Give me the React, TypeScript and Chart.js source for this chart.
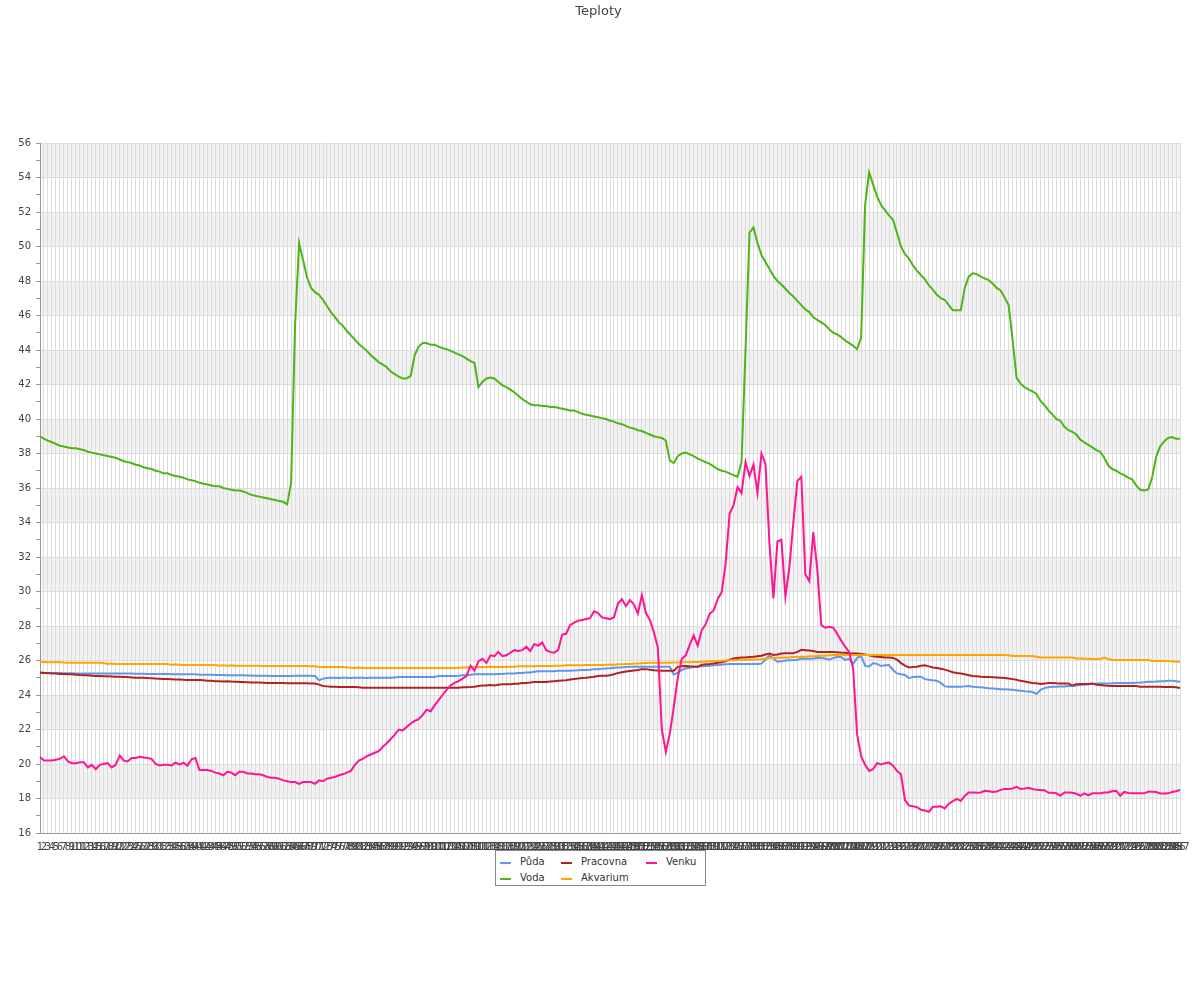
import { useEffect, useRef } from 'react';
import { Chart, registerables } from 'chart.js';

Chart.register(...registerables);

const TITLE = 'Teploty';
const CATEGORIES: string[] = Array.from({ length: 287 }, (_, i) => String(i + 1));

const PUDA = [
  25.3, 25.28, 25.27, 25.27, 25.27, 25.27, 25.26, 25.26, 25.26, 25.25,
  25.25, 25.25, 25.25, 25.25, 25.25, 25.25, 25.25, 25.25, 25.25, 25.25,
  25.24, 25.24, 25.24, 25.24, 25.23, 25.23, 25.23, 25.22, 25.22, 25.22,
  25.22, 25.22, 25.22, 25.2, 25.2, 25.2, 25.2, 25.2, 25.2, 25.2,
  25.18, 25.17, 25.17, 25.17, 25.16, 25.16, 25.16, 25.15, 25.15, 25.15,
  25.14, 25.14, 25.13, 25.13, 25.12, 25.12, 25.12, 25.12, 25.1, 25.1,
  25.1, 25.1, 25.1, 25.1, 25.12, 25.12, 25.12, 25.12, 25.12, 25.1,
  24.85, 24.95, 24.98, 25.0, 25.0, 24.98, 25.0, 25.0, 24.98, 25.0,
  25.0, 25.0, 24.98, 25.0, 25.0, 25.0, 25.0, 25.0, 25.0, 25.02,
  25.04, 25.05, 25.05, 25.05, 25.05, 25.05, 25.05, 25.05, 25.05, 25.05,
  25.1, 25.1, 25.1, 25.1, 25.1, 25.12, 25.15, 25.15, 25.17, 25.2,
  25.2, 25.2, 25.2, 25.2, 25.2, 25.22, 25.22, 25.25, 25.25, 25.25,
  25.27, 25.27, 25.3, 25.3, 25.35, 25.38, 25.38, 25.38, 25.38, 25.38,
  25.4, 25.4, 25.4, 25.4, 25.42, 25.43, 25.45, 25.45, 25.47, 25.5,
  25.5, 25.52, 25.54, 25.55, 25.58, 25.6, 25.6, 25.62, 25.64, 25.64,
  25.64, 25.64, 25.64, 25.64, 25.64, 25.64, 25.64, 25.64, 25.64, 25.18,
  25.3, 25.45, 25.54, 25.58, 25.62, 25.64, 25.66, 25.68, 25.7, 25.72,
  25.74, 25.76, 25.78, 25.79, 25.8, 25.8, 25.8, 25.8, 25.8, 25.8,
  25.8, 25.82, 26.05, 26.3, 26.1, 25.93, 25.95, 26.0, 26.02, 26.03,
  26.05, 26.1, 26.12, 26.1, 26.12, 26.15, 26.15, 26.12, 26.05, 26.15,
  26.2, 26.2, 26.03, 26.1, 25.8, 26.15, 26.25, 25.7, 25.64, 25.85,
  25.8, 25.68, 25.72, 25.74, 25.45, 25.25, 25.2, 25.16, 24.98, 25.05,
  25.06, 25.06, 24.92, 24.88, 24.85, 24.83, 24.7, 24.5, 24.48, 24.48,
  24.48, 24.48, 24.5, 24.52, 24.48, 24.46, 24.45, 24.42, 24.39, 24.38,
  24.36, 24.34, 24.33, 24.32, 24.3, 24.27, 24.25, 24.22, 24.2, 24.17,
  24.06, 24.3, 24.4, 24.45, 24.48, 24.48, 24.5, 24.5, 24.52, 24.52,
  24.55, 24.58, 24.6, 24.62, 24.64, 24.67, 24.67, 24.67, 24.67, 24.68,
  24.7, 24.7, 24.7, 24.7, 24.7, 24.71, 24.72, 24.74, 24.77, 24.77,
  24.78, 24.8, 24.8, 24.82, 24.83, 24.8, 24.77,
];

const VODA = [
  39.0, 38.85, 38.75, 38.65, 38.55, 38.45, 38.4, 38.35, 38.3, 38.3,
  38.25, 38.2, 38.1, 38.05, 38.0, 37.95, 37.9, 37.85, 37.8, 37.75,
  37.65, 37.55, 37.5, 37.45, 37.35, 37.3, 37.2, 37.15, 37.1, 37.0,
  36.95, 36.85, 36.85, 36.75, 36.7, 36.65, 36.6, 36.5, 36.45, 36.4,
  36.3, 36.25, 36.2, 36.15, 36.1, 36.1, 36.0, 35.95, 35.9, 35.85,
  35.85, 35.8, 35.7, 35.6, 35.55, 35.5, 35.45, 35.4, 35.35, 35.3,
  35.25, 35.2, 35.05, 36.3, 45.5, 50.2, 49.2, 48.2, 47.6, 47.35,
  47.2, 46.9, 46.55, 46.2, 45.9, 45.6, 45.4, 45.1, 44.85, 44.6,
  44.35, 44.15, 43.95, 43.7, 43.5, 43.3, 43.15, 43.0, 42.75, 42.6,
  42.45, 42.35, 42.35, 42.5, 43.7, 44.2, 44.4, 44.4, 44.3, 44.3,
  44.2, 44.1, 44.05, 43.95, 43.85, 43.75, 43.65, 43.5, 43.35, 43.25,
  41.85, 42.15, 42.35, 42.4, 42.35, 42.15, 41.95, 41.85, 41.7, 41.55,
  41.35, 41.15, 41.0, 40.85, 40.8, 40.8, 40.75, 40.75, 40.7, 40.7,
  40.65, 40.6, 40.55, 40.5, 40.5, 40.4, 40.3, 40.25, 40.2, 40.15,
  40.1, 40.05, 40.0, 39.9, 39.85, 39.75, 39.7, 39.6, 39.5, 39.45,
  39.35, 39.3, 39.2, 39.1, 39.0, 38.95, 38.9, 38.75, 37.6, 37.45,
  37.85, 38.0, 38.05, 37.95, 37.85, 37.7, 37.6, 37.5, 37.4, 37.25,
  37.1, 37.0, 36.95, 36.85, 36.75, 36.65, 37.5, 44.0, 50.8, 51.1,
  50.2, 49.5, 49.1, 48.7, 48.3, 48.0, 47.8, 47.55, 47.3, 47.1,
  46.85, 46.6, 46.35, 46.2, 45.9, 45.75, 45.6, 45.45, 45.2, 45.0,
  44.9, 44.75, 44.55, 44.4, 44.25, 44.05, 44.7, 52.4, 54.3, 53.6,
  52.9, 52.4, 52.1, 51.8, 51.55, 50.8, 50.0, 49.55, 49.3, 48.9,
  48.6, 48.35, 48.1, 47.75, 47.5, 47.2, 47.0, 46.9, 46.6, 46.3,
  46.3, 46.3, 47.6, 48.25, 48.45, 48.4, 48.25, 48.15, 48.05, 47.85,
  47.6, 47.45, 47.05, 46.6, 44.6, 42.4, 42.05, 41.85, 41.7, 41.6,
  41.45, 41.05, 40.8, 40.5, 40.25, 40.0, 39.9, 39.55, 39.35, 39.25,
  39.1, 38.8, 38.65, 38.5, 38.35, 38.2, 38.1, 37.75, 37.3, 37.1,
  37.0, 36.85, 36.75, 36.6, 36.5, 36.15, 35.9, 35.85, 35.9, 36.6,
  37.8, 38.4, 38.7, 38.9, 38.95, 38.85, 38.85,
];

const PRACOVNA = [
  25.3, 25.28, 25.27, 25.25, 25.25, 25.22, 25.22, 25.2, 25.2, 25.18,
  25.16, 25.15, 25.14, 25.12, 25.1, 25.1, 25.08, 25.08, 25.07, 25.06,
  25.06, 25.05, 25.04, 25.02, 25.0, 25.0, 25.0, 24.98, 24.97, 24.95,
  24.94, 24.93, 24.93, 24.92, 24.9, 24.9, 24.88, 24.87, 24.87, 24.87,
  24.87, 24.85, 24.83, 24.82, 24.8, 24.8, 24.78, 24.8, 24.78, 24.77,
  24.76, 24.75, 24.74, 24.73, 24.72, 24.72, 24.71, 24.7, 24.7, 24.7,
  24.7, 24.7, 24.68, 24.68, 24.68, 24.68, 24.68, 24.68, 24.67, 24.67,
  24.6, 24.52, 24.5, 24.48, 24.48, 24.47, 24.47, 24.47, 24.46, 24.46,
  24.45, 24.42, 24.42, 24.42, 24.42, 24.42, 24.42, 24.42, 24.42, 24.42,
  24.42, 24.42, 24.42, 24.42, 24.42, 24.42, 24.42, 24.42, 24.42, 24.42,
  24.42, 24.42, 24.42, 24.42, 24.42, 24.42, 24.45, 24.45, 24.46, 24.48,
  24.52, 24.55, 24.55, 24.58, 24.55, 24.6, 24.62, 24.62, 24.62, 24.65,
  24.65, 24.7, 24.7, 24.72, 24.75, 24.75, 24.76, 24.76, 24.78, 24.8,
  24.82, 24.84, 24.86, 24.9, 24.93, 24.95, 24.98, 25.0, 25.03, 25.06,
  25.1, 25.12, 25.12, 25.14, 25.2, 25.28, 25.32, 25.36, 25.39, 25.42,
  25.45, 25.5, 25.5, 25.46, 25.43, 25.42, 25.41, 25.41, 25.41, 25.41,
  25.63, 25.66, 25.68, 25.66, 25.65, 25.64, 25.75, 25.78, 25.8, 25.83,
  25.87, 25.9, 25.95, 26.05, 26.12, 26.15, 26.17, 26.18, 26.2, 26.22,
  26.25, 26.28, 26.35, 26.4, 26.32, 26.35, 26.4, 26.42, 26.42, 26.42,
  26.5, 26.62, 26.6, 26.58, 26.55, 26.5, 26.5, 26.5, 26.5, 26.5,
  26.48, 26.45, 26.45, 26.42, 26.4, 26.4, 26.38, 26.35, 26.3, 26.25,
  26.22, 26.2, 26.18, 26.17, 26.15, 26.05, 25.85, 25.7, 25.6, 25.62,
  25.64, 25.7, 25.72, 25.66, 25.6, 25.57, 25.52, 25.47, 25.4, 25.32,
  25.27, 25.24, 25.2, 25.15, 25.1, 25.08, 25.06, 25.05, 25.04, 25.03,
  25.02, 25.0, 24.98, 24.96, 24.92, 24.88, 24.82, 24.78, 24.74, 24.7,
  24.68, 24.64, 24.66, 24.7, 24.7, 24.68, 24.67, 24.67, 24.67, 24.55,
  24.62, 24.64, 24.64, 24.64, 24.66, 24.6, 24.58, 24.55, 24.53, 24.52,
  24.52, 24.52, 24.52, 24.52, 24.52, 24.52, 24.48, 24.48, 24.48, 24.48,
  24.48, 24.48, 24.47, 24.47, 24.46, 24.45, 24.41,
];

const AKVARIUM = [
  25.93, 25.92, 25.9, 25.9, 25.92, 25.9, 25.88, 25.87, 25.87, 25.87,
  25.87, 25.87, 25.87, 25.87, 25.87, 25.87, 25.85, 25.8, 25.83, 25.8,
  25.8, 25.8, 25.8, 25.8, 25.8, 25.8, 25.8, 25.8, 25.8, 25.8,
  25.8, 25.8, 25.8, 25.74, 25.78, 25.76, 25.74, 25.74, 25.74, 25.74,
  25.74, 25.74, 25.74, 25.74, 25.74, 25.7, 25.72, 25.7, 25.72, 25.7,
  25.7, 25.7, 25.7, 25.7, 25.7, 25.7, 25.68, 25.68, 25.68, 25.68,
  25.68, 25.68, 25.68, 25.68, 25.68, 25.68, 25.68, 25.68, 25.66, 25.66,
  25.62, 25.62, 25.62, 25.62, 25.62, 25.62, 25.62, 25.6, 25.58, 25.56,
  25.6, 25.56, 25.56, 25.56, 25.56, 25.56, 25.56, 25.56, 25.56, 25.56,
  25.56, 25.56, 25.56, 25.56, 25.56, 25.56, 25.56, 25.56, 25.56, 25.56,
  25.56, 25.56, 25.56, 25.56, 25.56, 25.58, 25.6, 25.6, 25.62, 25.62,
  25.62, 25.62, 25.62, 25.65, 25.62, 25.62, 25.64, 25.62, 25.64, 25.64,
  25.66, 25.66, 25.66, 25.66, 25.66, 25.68, 25.68, 25.68, 25.68, 25.7,
  25.7, 25.7, 25.72, 25.72, 25.72, 25.72, 25.72, 25.74, 25.74, 25.74,
  25.74, 25.74, 25.76, 25.76, 25.76, 25.78, 25.78, 25.8, 25.8, 25.82,
  25.82, 25.84, 25.86, 25.87, 25.87, 25.87, 25.87, 25.87, 25.87, 25.88,
  25.88, 25.9, 25.9, 25.9, 25.92, 25.92, 25.93, 25.94, 25.95, 25.96,
  25.97, 25.98, 26.0, 26.02, 26.02, 26.03, 26.04, 26.04, 26.05, 26.06,
  26.06, 26.07, 26.1, 26.15, 26.15, 26.16, 26.16, 26.17, 26.18, 26.2,
  26.2, 26.22, 26.22, 26.24, 26.25, 26.26, 26.28, 26.28, 26.3, 26.32,
  26.32, 26.35, 26.3, 26.32, 26.32, 26.32, 26.32, 26.32, 26.32, 26.32,
  26.32, 26.32, 26.32, 26.32, 26.32, 26.32, 26.32, 26.32, 26.32, 26.32,
  26.32, 26.32, 26.32, 26.32, 26.32, 26.32, 26.32, 26.32, 26.32, 26.32,
  26.32, 26.32, 26.32, 26.32, 26.32, 26.32, 26.32, 26.32, 26.32, 26.32,
  26.32, 26.32, 26.32, 26.3, 26.26, 26.26, 26.26, 26.26, 26.26, 26.26,
  26.22, 26.17, 26.17, 26.17, 26.17, 26.17, 26.17, 26.17, 26.17, 26.17,
  26.12, 26.12, 26.1, 26.1, 26.09, 26.09, 26.09, 26.17, 26.09, 26.03,
  26.03, 26.03, 26.03, 26.03, 26.03, 26.03, 26.03, 26.03, 26.03, 25.97,
  25.97, 25.97, 25.97, 25.95, 25.95, 25.93, 25.93,
];

const VENKU = [
  20.4, 20.2, 20.2, 20.2, 20.25, 20.3, 20.45, 20.15, 20.05, 20.05,
  20.1, 20.1, 19.8, 19.95, 19.7, 19.95, 20.0, 20.05, 19.8, 19.95,
  20.5, 20.2, 20.15, 20.35, 20.35, 20.42, 20.38, 20.35, 20.3, 20.0,
  19.92, 19.95, 19.95, 19.92, 20.08, 19.96, 20.08, 19.9, 20.27, 20.35,
  19.65, 19.65, 19.65, 19.6, 19.5, 19.45, 19.35, 19.55, 19.5, 19.35,
  19.55, 19.55, 19.45, 19.45, 19.4, 19.4, 19.35, 19.25, 19.2, 19.2,
  19.15, 19.05, 19.0, 18.95, 18.95, 18.85, 18.95, 18.95, 18.95, 18.85,
  19.05, 19.0, 19.15, 19.2, 19.25, 19.35, 19.4, 19.5, 19.6, 19.95,
  20.2, 20.3, 20.45, 20.55, 20.65, 20.75, 21.0, 21.2, 21.45, 21.7,
  22.0, 21.95, 22.15, 22.35, 22.5, 22.6, 22.85, 23.15, 23.05, 23.4,
  23.7, 24.0, 24.3, 24.55, 24.7, 24.8, 24.95, 25.1, 25.7, 25.4,
  25.95, 26.1, 25.85, 26.3, 26.25, 26.5, 26.25, 26.3, 26.45, 26.6,
  26.55, 26.6, 26.8, 26.55, 26.95, 26.85, 27.05, 26.6, 26.5, 26.45,
  26.6, 27.5, 27.55, 28.05, 28.2, 28.3, 28.35, 28.4, 28.45, 28.85,
  28.75, 28.5, 28.45, 28.4, 28.5, 29.3, 29.55, 29.15, 29.5, 29.25,
  28.72, 29.8, 28.75, 28.35, 27.65, 26.75, 22.0, 20.7, 21.75, 23.3,
  25.0, 26.1, 26.3, 26.9, 27.45, 26.85, 27.75, 28.1, 28.7, 28.9,
  29.55, 29.95, 31.6, 34.5, 35.0, 36.05, 35.7, 37.5, 36.7, 37.35,
  35.7, 38.0, 37.4, 32.8, 29.6, 32.9, 33.0, 29.7, 31.4, 34.0,
  36.4, 36.65, 31.0, 30.6, 33.45, 31.3, 28.05, 27.9, 27.95, 27.9,
  27.55, 27.15, 26.8, 26.5, 25.5, 21.7, 20.45, 19.95, 19.6, 19.7,
  20.05, 19.97, 20.05, 20.08, 19.9, 19.6, 19.4, 17.9, 17.6, 17.55,
  17.5, 17.35, 17.3, 17.23, 17.52, 17.52, 17.55, 17.42, 17.7, 17.85,
  17.98, 17.86, 18.15, 18.35, 18.35, 18.33, 18.35, 18.45, 18.42, 18.38,
  18.4, 18.5, 18.55, 18.55, 18.58, 18.68, 18.55, 18.58, 18.62, 18.55,
  18.5, 18.49, 18.48, 18.33, 18.33, 18.3, 18.16, 18.35, 18.35, 18.33,
  18.28, 18.16, 18.3, 18.18, 18.3, 18.3, 18.3, 18.35, 18.35, 18.42,
  18.45, 18.16, 18.38, 18.32, 18.3, 18.3, 18.3, 18.3, 18.39, 18.39,
  18.38, 18.29, 18.29, 18.3, 18.38, 18.42, 18.49,
];

const Y_MIN = 16;
const Y_MAX = 56;
const SHADED_BAND_STARTS = [18, 22, 26, 30, 34, 38, 42, 46, 50, 54];

const SERIES = [
  { label: 'Půda', data: PUDA, color: '#6495ED', order: 4 },
  { label: 'Voda', data: VODA, color: '#4DB515', order: 3 },
  { label: 'Pracovna', data: PRACOVNA, color: '#B22222', order: 2 },
  { label: 'Akvarium', data: AKVARIUM, color: '#FFA500', order: 1 },
  { label: 'Venku', data: VENKU, color: '#FF1493', order: 0 },
];

// legend layout: column-major, 2 rows
const LEGEND_COLS = [5, 66, 151];
const LEGEND_ROWS = [11, 26.5];

const FONT = "'DejaVu Sans', sans-serif";

const bandsPlugin = {
  id: 'bands',
  beforeDraw(chart: any) {
    const { ctx, chartArea, scales } = chart;
    const y = scales.y;
    ctx.save();
    ctx.fillStyle = '#f2f2f2';
    for (const start of SHADED_BAND_STARTS) {
      const top = y.getPixelForValue(start + 2);
      const bottom = y.getPixelForValue(start);
      ctx.fillRect(chartArea.left, top, chartArea.right - chartArea.left, bottom - top);
    }
    ctx.restore();
  },
};

export default function App() {
  const ref = useRef<HTMLCanvasElement>(null);

  useEffect(() => {
    const canvas = ref.current;
    if (!canvas) return;
    const chart = new Chart(canvas, {
      type: 'line',
      data: {
        labels: CATEGORIES,
        datasets: SERIES.map((s) => ({
          label: s.label,
          data: s.data,
          borderColor: s.color,
          backgroundColor: s.color,
          borderWidth: 2,
          pointRadius: 0,
          tension: 0,
          fill: false,
          order: s.order,
        })),
      },
      options: {
        animation: false,
        responsive: false,
        devicePixelRatio: 1,
        layout: { padding: { left: 17, right: 20, top: 0, bottom: 137 } },
        font: { family: FONT },
        plugins: {
          legend: { display: false },
          tooltip: { enabled: false },
          title: {
            display: true,
            text: TITLE,
            color: '#444',
            font: { family: FONT, size: 13, weight: 'normal' },
            padding: { top: 4, bottom: 123.4 },
          },
        },
        scales: {
          x: {
            type: 'category',
            offset: false,
            grid: {
              color: '#dddddd',
              lineWidth: 1,
              drawTicks: false,
            },
            border: { color: '#999', width: 1 },
            ticks: {
              autoSkip: false,
              maxRotation: 0,
              minRotation: 0,
              padding: 8,
              color: '#444',
              font: { family: FONT, size: 10 },
            },
            afterFit: (s: any) => {
              s.height = 30;
            },
          },
          y: {
            min: Y_MIN,
            max: Y_MAX,
            grid: {
              color: (c: any) => (c.tick && c.tick.value % 2 === 0 ? '#dddddd' : 'rgba(0,0,0,0)'),
              tickColor: '#999',
              tickLength: 4,
              lineWidth: 1,
            },
            border: { color: '#999', width: 1 },
            ticks: {
              stepSize: 1,
              autoSkip: false,
              padding: 5,
              color: '#444',
              font: { family: FONT, size: 10 },
              callback: (v: any) => (Number(v) % 2 === 0 ? String(v) : ''),
            },
            afterFit: (s: any) => {
              s.width = 23;
            },
          },
        },
      },
      plugins: [bandsPlugin],
    });
    return () => chart.destroy();
  }, []);

  return (
    <div style={{ position: 'absolute', left: 0, top: 0, width: 1200, height: 1000, background: '#fff' }}>
      <canvas ref={ref} width={1200} height={1000} style={{ display: 'block', width: 1200, height: 1000 }} />
      <div
        style={{
          position: 'absolute',
          left: 495,
          top: 850,
          width: 211,
          height: 36,
          boxSizing: 'border-box',
          border: '1px solid #888',
          fontFamily: FONT,
          fontSize: 10,
          color: '#333',
          background: '#fff',
        }}
      >
        {SERIES.map((s, i) => {
          const col = Math.floor(i / 2);
          const row = i % 2;
          const cx = LEGEND_COLS[col];
          const cy = LEGEND_ROWS[row];
          return (
            <div key={s.label}>
              <div
                style={{
                  position: 'absolute',
                  left: cx - 1,
                  top: cy,
                  width: 11,
                  height: 2,
                  background: s.color,
                }}
              />
              <div
                style={{
                  position: 'absolute',
                  left: cx + 19,
                  top: cy - 6,
                  lineHeight: '12px',
                  whiteSpace: 'nowrap',
                }}
              >
                {s.label}
              </div>
            </div>
          );
        })}
      </div>
    </div>
  );
}
